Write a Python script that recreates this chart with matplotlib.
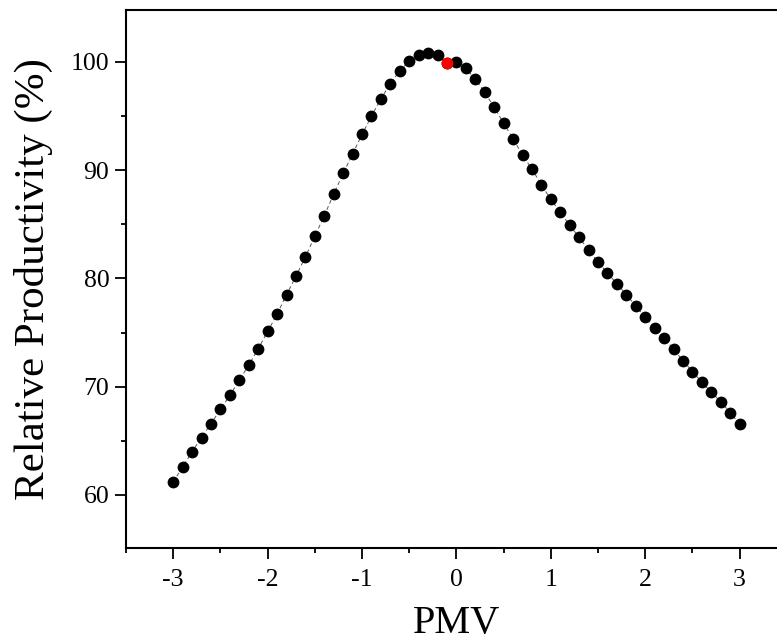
import matplotlib
matplotlib.use("Agg")
import matplotlib.pyplot as plt
from matplotlib.ticker import MultipleLocator

pmv = [-3.0, -2.9, -2.8, -2.7, -2.6, -2.5, -2.4, -2.3, -2.2, -2.1,
       -2.0, -1.9, -1.8, -1.7, -1.6, -1.5, -1.4, -1.3, -1.2, -1.1,
       -1.0, -0.9, -0.8, -0.7, -0.6, -0.5, -0.4, -0.3, -0.2, -0.1,
       0.0, 0.1, 0.2, 0.3, 0.4, 0.5, 0.6, 0.7, 0.8, 0.9,
       1.0, 1.1, 1.2, 1.3, 1.4, 1.5, 1.6, 1.7, 1.8, 1.9,
       2.0, 2.1, 2.2, 2.3, 2.4, 2.5, 2.6, 2.7, 2.8, 2.9, 3.0]
productivity = [61.2, 62.6, 64.0, 65.3, 66.6, 67.9, 69.2, 70.6, 72.0, 73.5,
                75.1, 76.7, 78.5, 80.2, 82.0, 83.9, 85.8, 87.8, 89.7, 91.5,
                93.3, 95.0, 96.6, 98.0, 99.2, 100.05, 100.6, 100.8, 100.6, 99.9,
                100.0, 99.4, 98.4, 97.2, 95.8, 94.35, 92.9, 91.4, 90.1, 88.65,
                87.3, 86.1, 84.9, 83.8, 82.6, 81.5, 80.5, 79.5, 78.5, 77.45,
                76.4, 75.45, 74.5, 73.45, 72.4, 71.4, 70.4, 69.5, 68.6, 67.6, 66.55]
highlight_pmv = [-0.1]
highlight_val = [99.9]

xticks = [-3, -2, -1, 0, 1, 2, 3]
xticklabels = ["-3", "-2", "-1", "0", "1", "2", "3"]
yticks = [60, 70, 80, 90, 100]

plt.rcParams['font.family'] = ['Liberation Serif', 'DejaVu Serif']

fig = plt.figure(figsize=(7.77, 6.41), dpi=100)
ax = fig.add_axes([0.1622, 0.1451, 0.8505, 0.8393])

ax.plot(pmv, productivity, linestyle=(0, (4, 3)), color='#555555', linewidth=0.7, zorder=1)
ax.plot(pmv, productivity, linestyle='none', marker='o', markersize=8.5,
        color='black', markeredgewidth=0, zorder=2)
ax.plot(highlight_pmv, highlight_val, linestyle='none', marker='o', markersize=8.5,
        color='red', markeredgewidth=0, zorder=3)

ax.set_xlim(-3.5, 3.5)
ax.set_ylim(55.1, 104.8)
ax.set_xticks(xticks)
ax.set_xticklabels(xticklabels)
ax.set_yticks(yticks)
ax.xaxis.set_minor_locator(MultipleLocator(0.5))
ax.yaxis.set_minor_locator(MultipleLocator(5))

ax.tick_params(which='major', direction='out', length=8, width=1.3, labelsize=18.5)
ax.tick_params(axis='x', which='major', pad=7)
ax.tick_params(axis='y', which='major', pad=4)
ax.tick_params(which='minor', direction='out', length=3.8, width=1.3)
for s in ax.spines.values():
    s.set_linewidth(1.5)

ax.set_xlabel('PMV', fontsize=29, labelpad=10)
ax.set_ylabel('Relative Productivity (%)', fontsize=31, labelpad=13)

fig.savefig('out.png', dpi=100)
